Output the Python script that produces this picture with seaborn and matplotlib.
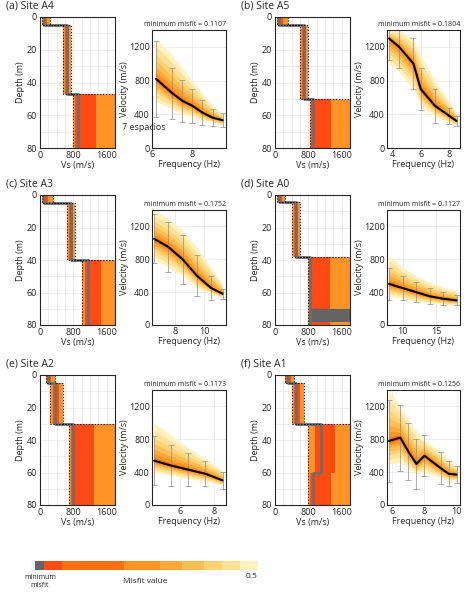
import numpy as np
import matplotlib
matplotlib.use("Agg")
import matplotlib.pyplot as plt
import seaborn as sns

sns.set_style("white")
plt.rcParams['font.family'] = ['Open Sans', 'DejaVu Sans']

sites = ["(a) Site A4", "(b) Site A5", "(c) Site A3", "(d) Site A0", "(e) Site A2", "(f) Site A1"]
misfits = [0.1107, 0.1804, 0.1752, 0.1127, 0.1173, 0.1256]

# profiles: layer boundaries, best Vs, min Vs, max Vs
prof_depth = [[0, 5, 47, 80], [0, 5, 50, 80], [0, 5, 40, 80], [0, 4, 38, 70, 80], [0, 5, 30, 80], [0, 5, 30, 60, 80]]
prof_best = [[100, 650, 900], [100, 700, 900], [100, 750, 1150], [100, 500, 850, 850], [200, 350, 800], [300, 500, 1100, 900]]
prof_min = [[50, 550, 800], [50, 600, 850], [50, 650, 1000], [50, 400, 800, 800], [150, 250, 700], [250, 400, 800, 800]]
prof_max = [[250, 750, 1800], [300, 800, 1800], [300, 850, 1800], [250, 600, 1800, 1800], [350, 550, 1800], [450, 700, 1800, 1800]]

# dispersion
freqs = [[6.2, 7.0, 7.5, 8.0, 8.5, 9.0, 9.5],
         [3.8, 4.5, 5.5, 6.0, 7.0, 8.0, 8.5],
         [6.5, 7.5, 8.5, 9.5, 10.5, 11.3],
         [8, 10, 12, 14, 16, 18],
         [4.5, 5.5, 6.5, 7.5, 8.5],
         [5.8, 6.5, 7.0, 7.5, 8.0, 9.0, 9.5, 10.0]]
vel = [[820, 650, 560, 500, 420, 360, 330],
       [1300, 1200, 1000, 700, 500, 380, 320],
       [1050, 950, 800, 600, 450, 380],
       [500, 450, 400, 350, 320, 300],
       [540, 480, 430, 380, 300],
       [780, 820, 650, 500, 600, 450, 380, 370]]
vel_hi = [[1300, 1100, 950, 800, 650, 500, 400],
          [1400, 1400, 1300, 1100, 800, 550, 420],
          [1400, 1300, 1150, 950, 700, 500],
          [850, 700, 600, 520, 460, 420],
          [1000, 850, 700, 560, 420],
          [1400, 1200, 1050, 900, 800, 650, 550, 480]]
vel_lo = [[550, 460, 400, 370, 330, 300, 280],
          [1000, 900, 700, 500, 380, 300, 270],
          [800, 700, 600, 450, 380, 330],
          [350, 320, 290, 270, 250, 240],
          [400, 360, 320, 290, 240],
          [500, 520, 450, 380, 400, 330, 300, 290]]
err = [[450, 300, 250, 200, 150, 100, 80],
       [250, 250, 300, 250, 200, 100, 60],
       [300, 300, 300, 250, 150, 60],
       [200, 150, 120, 100, 80, 60],
       [300, 250, 200, 150, 100],
       [500, 400, 350, 300, 250, 200, 150, 100]]
fticks = [[6, 8], [4, 6, 8], [8, 10], [10, 15], [6, 8], [6, 8, 10]]

cols = ["#646464", "#ff4a14", "#ff7014", "#ff9326", "#ffaa38", "#ffbf55", "#ffd274", "#ffe297", "#fff2c0"]

fig = plt.figure(figsize=(4.74, 5.92), dpi=100)
W, H = 474, 592
def ax_px(x0, y0, x1, y1):
    return fig.add_axes([x0 / W, 1 - y1 / H, (x1 - x0) / W, (y1 - y0) / H])

FS = 6.5
rows_y = [(17, 148, 30), (195, 325, 210), (375, 505, 390)]
cols_x = [(40, 115, 152, 226), (275, 350, 387, 460)]
for i in range(6):
    r, c = divmod(i, 2)
    y0, y1, yd = rows_y[r]
    px0, px1, dx0, dx1 = cols_x[c]
    ap = ax_px(px0, y0, px1, y1)
    d = prof_depth[i]
    for k in range(len(prof_best[i])):
        ap.fill_betweenx([d[k], d[k + 1]], prof_min[i][k], prof_max[i][k], color=cols[3], lw=0)
        ap.fill_betweenx([d[k], d[k + 1]], (prof_min[i][k] + prof_best[i][k]) / 2,
                         (prof_max[i][k] + prof_best[i][k]) / 2, color=cols[1], lw=0)
    if i == 3:
        ap.fill_betweenx([70, 78], 850, 1800, color=cols[0], lw=0)
    bx = np.repeat(prof_best[i], 2)
    by = np.array([[d[k], d[k + 1]] for k in range(len(prof_best[i]))]).ravel()
    ap.plot(bx, by, color="#6e6e6e", lw=2)
    ap.plot(np.repeat(prof_min[i], 2), by, color="k", lw=0.8, ls=":")
    ap.plot(np.repeat(prof_max[i], 2), by, color="k", lw=0.8, ls=":")
    ap.set_xlim(0, 1800)
    ap.set_ylim(80, 0)
    ap.set_xticks([0, 800, 1600])
    ap.set_yticks([0, 20, 40, 60, 80])
    ap.set_xticks(np.arange(0, 1800, 200), minor=True)
    ap.set_yticks(np.arange(0, 80, 10), minor=True)
    ap.grid(True, which="both", color="#e6e6e6", lw=0.5)
    ap.set_xlabel("Vs (m/s)", fontsize=FS, labelpad=1)
    ap.set_ylabel("Depth (m)", fontsize=FS, labelpad=1)
    ap.tick_params(labelsize=FS, length=0, pad=2)
    ap.set_title(sites[i], fontsize=7.5, loc="left", x=-0.45, pad=6)

    ad = ax_px(dx0, yd, dx1, y1)
    f = np.array(freqs[i]); v = np.array(vel[i]); hi = np.array(vel_hi[i]); lo = np.array(vel_lo[i])
    for j, t in enumerate([1.0, 0.8, 0.6, 0.45, 0.3, 0.18, 0.08]):
        ad.fill_between(f, v + t * (hi - v), v - t * (v - lo), color=cols[8 - j], lw=0)
    ad.errorbar(f, v, yerr=err[i], fmt="none", ecolor="#8c8c8c", elinewidth=0.5, capsize=2, capthick=0.5)
    ad.plot(f, v, color="k", lw=1.5)
    ad.set_xlim(f[0] - 0.03 * (f[-1] - f[0]), f[-1] + 0.05 * (f[-1] - f[0]))
    ad.set_ylim(0, 1400)
    ad.set_yticks([0, 400, 800, 1200])
    ad.set_xticks(fticks[i])
    ad.grid(True, color="#e6e6e6", lw=0.5)
    ad.set_xlabel("Frequency (Hz)", fontsize=FS, labelpad=1)
    ad.set_ylabel("Velocity (m/s)", fontsize=FS, labelpad=0)
    ad.tick_params(labelsize=FS, length=0, pad=1.5)
    ad.set_title(f"minimum misfit = {misfits[i]}", fontsize=5, pad=3, loc="right")
    if i == 0:
        fig.text(122 / W, 1 - 130 / H, "7 espacios", fontsize=FS)

cb = ax_px(35, 561, 258, 570)
bounds = [0, 0.02, 0.06, 0.2, 0.28, 0.33, 0.38, 0.42, 0.46, 0.5]
for k in range(9):
    cb.axvspan(bounds[k], bounds[k + 1], color=cols[k], lw=0)
cb.set_xlim(0, 0.5)
cb.set_axis_off()
fig.text(40 / W, 1 - 574 / H, "minimum\nmisfit", fontsize=5, ha="center", va="top")
fig.text(257 / W, 1 - 573 / H, "0.5", fontsize=6, ha="right", va="top")
fig.text(145 / W, 1 - 578 / H, "Misfit value", fontsize=6, ha="center", va="top")

fig.savefig("out.png", dpi=100)
